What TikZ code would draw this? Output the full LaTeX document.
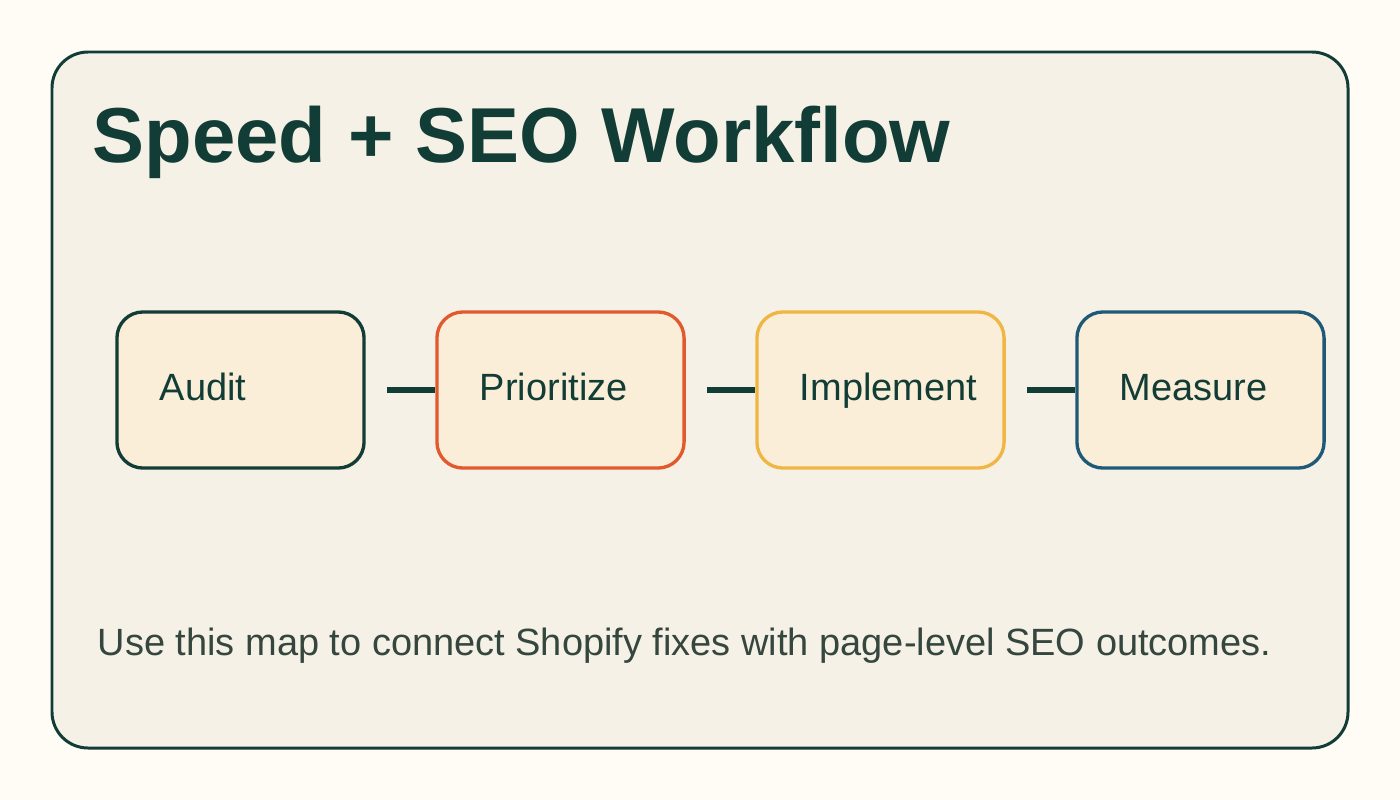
\documentclass[tikz,border=0pt]{standalone}
\usepackage{fontspec}
\setmainfont{Liberation Sans}
\usetikzlibrary{positioning}

\definecolor{pageBg}{HTML}{FFFCF5}
\definecolor{cardBg}{HTML}{F5F1E6}
\definecolor{boxBg}{HTML}{FAEED8}
\definecolor{ink}{HTML}{123D36}
\definecolor{inkSoft}{HTML}{34463E}
\definecolor{cOrange}{HTML}{E05A2E}
\definecolor{cYellow}{HTML}{EFB643}
\definecolor{cBlue}{HTML}{1E5A78}

\begin{document}
\begin{tikzpicture}[x=0.01cm, y=-0.01cm,
  stage/.style={draw, fill=boxBg, rounded corners=0.26cm, line width=0.95pt,
                minimum width=2.47cm, minimum height=1.56cm,
                text width=1.61cm, inner xsep=0.43cm, align=left,
                text height=0.2cm, text depth=0cm,
                font=\fontsize{10.8pt}{12pt}\selectfont, text=ink},
  conn/.style={draw=ink, line width=1.6pt},
  ttl/.style={font=\fontsize{22.15pt}{26pt}\selectfont\bfseries, text=ink,
              anchor=base west, inner sep=0pt},
  note/.style={font=\fontsize{10.8pt}{12pt}\selectfont, text=inkSoft,
               anchor=base west, inner sep=0pt},
]
\useasboundingbox (0,0) rectangle (1400,800);
\fill[pageBg] (0,0) rectangle (1400,800);

%% ---- Card
\draw[ink, fill=cardBg, line width=0.85pt, rounded corners=0.36cm]
  (52,52) rectangle (1348,748);

%% ---- Column spacing
\def\ca{240.5}   % audit
\def\cb{560.5}   % prioritize
\def\cc{880.5}   % implement
\def\cd{1200.5}  % measure
\def\rA{390}     % stage row

\node[ttl] (title) at (92,162) {Speed + SEO Workflow};

%% ---- Stages
\node[stage, draw=ink]     (audit) at (\ca,\rA) {Audit};
\node[stage, draw=cOrange] (prio)  at (\cb,\rA) {Prioritize};
\node[stage, draw=cYellow] (impl)  at (\cc,\rA) {Implement};
\node[stage, draw=cBlue]   (meas)  at (\cd,\rA) {Measure};

\draw[conn] ([xshift=0.21cm]audit.east) -- (prio.west);
\draw[conn] ([xshift=0.21cm]prio.east)  -- (impl.west);
\draw[conn] ([xshift=0.21cm]impl.east)  -- (meas.west);

\node[note] (caption) at (97,655)
  {Use this map to connect Shopify fixes with page-level SEO outcomes.};

\end{tikzpicture}
\end{document}
